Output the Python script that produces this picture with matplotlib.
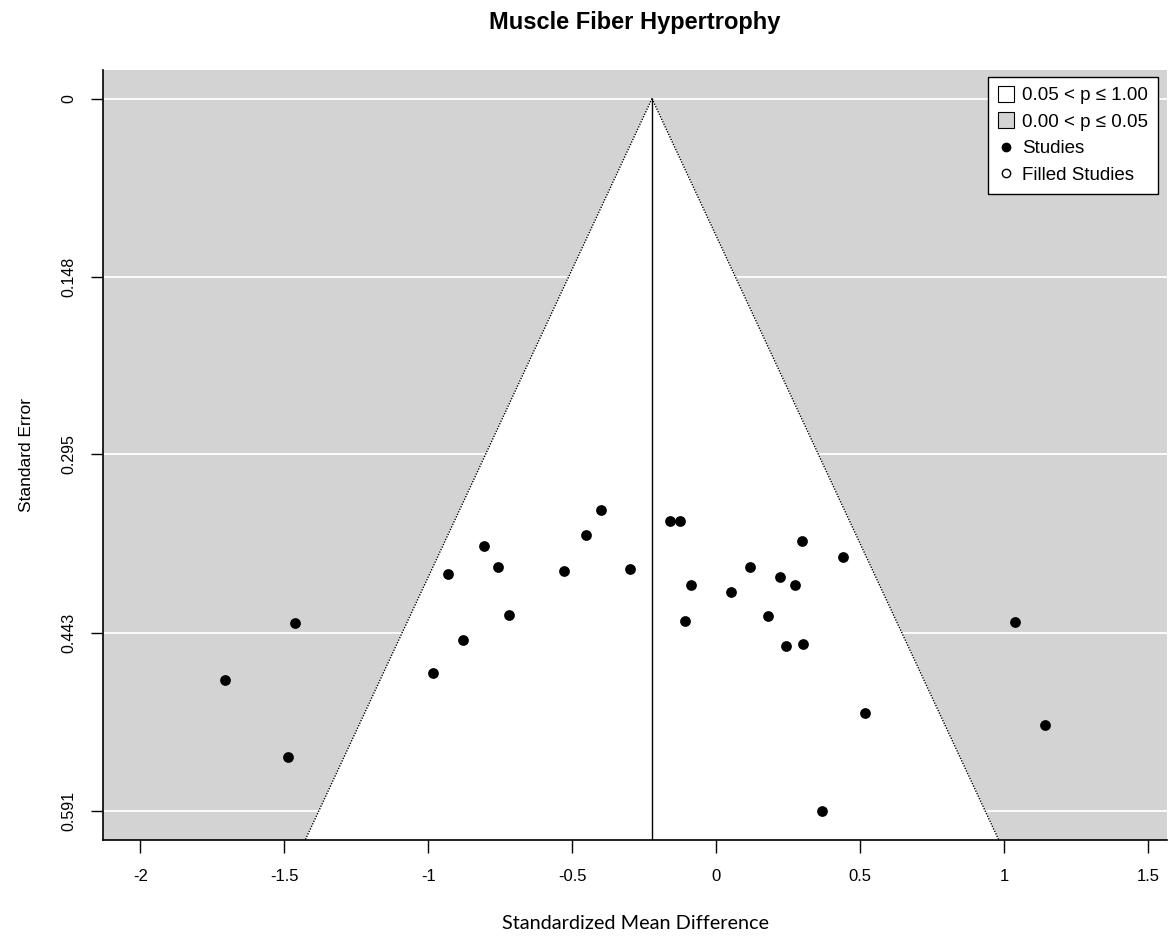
import numpy as np
import matplotlib.pyplot as plt
from matplotlib.lines import Line2D

plt.rcParams['font.family'] = ['Liberation Sans', 'DejaVu Sans']

# study estimates
smd = [-1.705, -1.464, -1.487, -0.982, -0.931, -0.880, -0.806, -0.758, -0.720,
       -0.530, -0.452, -0.400, -0.298, -0.160, -0.124, -0.087, -0.108, 0.052,
       0.117, 0.181, 0.221, 0.241, 0.275, 0.298, 0.301, 0.439, 0.517, 0.366,
       1.038, 1.141]
se = [0.482, 0.435, 0.546, 0.476, 0.394, 0.449, 0.371, 0.388, 0.428,
      0.392, 0.362, 0.341, 0.390, 0.350, 0.350, 0.403, 0.433, 0.409,
      0.388, 0.429, 0.397, 0.454, 0.403, 0.367, 0.452, 0.380, 0.509, 0.591,
      0.434, 0.519]

est = -0.223
x_ticks = [-2, -1.5, -1, -0.5, 0, 0.5, 1, 1.5]
x_labels = ['-2', '-1.5', '-1', '-0.5', '0', '0.5', '1', '1.5']
se_ticks = [0, 0.148, 0.295, 0.443, 0.591]
se_labels = ['0', '0.148', '0.295', '0.443', '0.591']

fig = plt.figure(figsize=(11.73, 9.38), dpi=100)
ax = fig.add_axes([103 / 1173, 1 - 840 / 938, (1167 - 103) / 1173, (840 - 70) / 938])

max_se = max(se)
ylo, yhi = -0.04 * max_se, 1.04 * max_se
ax.set_xlim(-2.13, 1.566)
ax.set_ylim(yhi, ylo)
ax.set_facecolor('#d3d3d3')

# white gridlines
for t in se_ticks:
    ax.axhline(t, color='white', lw=1.3, zorder=1)

# funnel region
se_f = np.array([0, yhi])
left = est - 1.96 * se_f
right = est + 1.96 * se_f
ax.fill([left[0], left[1], right[1], right[0]], [0, yhi, yhi, 0],
        color='white', zorder=2)
ax.plot(left, se_f, color='black', ls=(0, (1, 1)), lw=1, zorder=3)
ax.plot(right, se_f, color='black', ls=(0, (1, 1)), lw=1, zorder=3)
ax.plot([est, est], [0, yhi], color='black', lw=1, zorder=3)

ax.scatter(smd, se, s=60, color='black', zorder=4, linewidths=0)

ax.set_xticks(x_ticks)
ax.set_xticklabels(x_labels, fontsize=12)
ax.set_yticks(se_ticks)
ax.set_yticklabels(se_labels, fontsize=11.5, rotation=90, va='center')
ax.tick_params(axis='both', length=9, width=1, colors='black', pad=10)
ax.tick_params(axis='x', pad=12)

for s in ['top', 'right']:
    ax.spines[s].set_visible(False)
for s in ['left', 'bottom']:
    ax.spines[s].set_linewidth(1.2)

ax.set_xlabel('Standardized Mean Difference', fontsize=14.3, family=['Lato', 'DejaVu Sans'],
              labelpad=22)
ax.set_ylabel('Standard Error', fontsize=12.5, labelpad=20)
fig.suptitle('Muscle Fiber Hypertrophy', fontsize=17, fontweight='bold', x=0.541, y=0.988)

handles = [
    Line2D([], [], ls='none', marker='s', markersize=12, markerfacecolor='white',
           markeredgecolor='black', markeredgewidth=0.8),
    Line2D([], [], ls='none', marker='s', markersize=12, markerfacecolor='#d3d3d3',
           markeredgecolor='black', markeredgewidth=0.8),
    Line2D([], [], ls='none', marker='o', markersize=6, color='black'),
    Line2D([], [], ls='none', marker='o', markersize=6, markerfacecolor='white',
           markeredgecolor='black'),
]
labels = ['0.05 < p \u2264 1.00', '0.00 < p \u2264 0.05', 'Studies', 'Filled Studies']
leg = ax.legend(handles, labels, loc='upper right', bbox_to_anchor=(0.992, 0.991),
                fontsize=13.5, frameon=True, fancybox=False, edgecolor='black',
                framealpha=1, handlelength=0.8, handletextpad=0.45, labelspacing=0.5,
                borderpad=0.55, borderaxespad=0.0)
leg.get_frame().set_linewidth(1)

fig.savefig('out.png', dpi=100)
